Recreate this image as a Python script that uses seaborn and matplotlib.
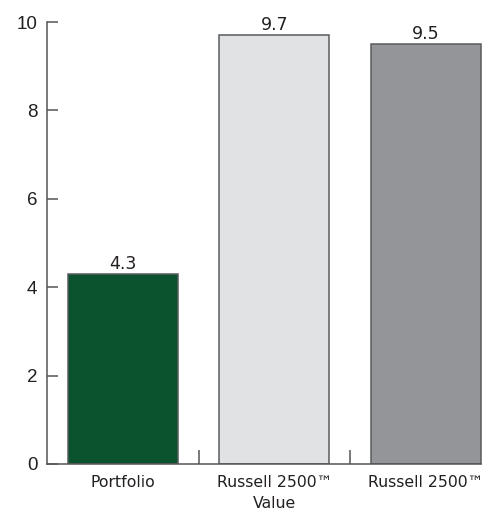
import pandas as pd
import matplotlib.pyplot as plt
import seaborn as sns

# values
categories = ['Portfolio', 'Russell 2500\u2122\nValue', 'Russell 2500\u2122']
values = [4.3, 9.7, 9.5]
bar_colors = ['#0b522e', '#e1e2e4', '#939598']
yticks = [0, 2, 4, 6, 8, 10]

df = pd.DataFrame({'category': categories, 'value': values})

sns.set_style('white')
plt.rcParams['font.family'] = ['DejaVu Sans']

fig = plt.figure(figsize=(4.82, 5.13), dpi=100)
# axes runs past the right edge, like the original
ax = fig.add_axes([47 / 482, 49 / 513, 454.5 / 482, 442 / 513])

sns.barplot(
    data=df,
    x='category',
    y='value',
    hue='category',
    palette=bar_colors,
    saturation=1,
    width=0.726,
    edgecolor='#5a5b5d',
    linewidth=1.1,
    legend=False,
    ax=ax
)

ax.set_xlim(-0.5, 2.5)
ax.set_ylim(0, 10)
ax.set_yticks(yticks, labels=[str(v) for v in yticks],
              fontfamily=['Liberation Sans', 'DejaVu Sans'])
ax.set(xlabel='', ylabel='')

# value labels above bars
for cont in ax.containers:
    ax.bar_label(cont, fmt='%.1f', padding=1, fontsize=12.5, color='#231f20')

# spines
sns.despine(ax=ax)
for s in ['left', 'bottom']:
    ax.spines[s].set_color('#555555')
    ax.spines[s].set_linewidth(1.1)

# y ticks point inward
ax.tick_params(axis='y', which='major', left=True, direction='in', length=8,
               width=1.1, color='#555555', pad=7, labelsize=13.5,
               labelcolor='#231f20')

# category separators as inward minor ticks
ax.set_xticks([0.5, 1.5], minor=True)
ax.tick_params(axis='x', which='minor', bottom=True, direction='in', length=10,
               width=1.1, color='#555555')
ax.tick_params(axis='x', which='major', bottom=False, length=0, pad=8,
               labelsize=11.3, labelcolor='#231f20')
for lab in ax.get_xticklabels():
    lab.set_linespacing(1.5)

plt.savefig('out.png', dpi=100)
